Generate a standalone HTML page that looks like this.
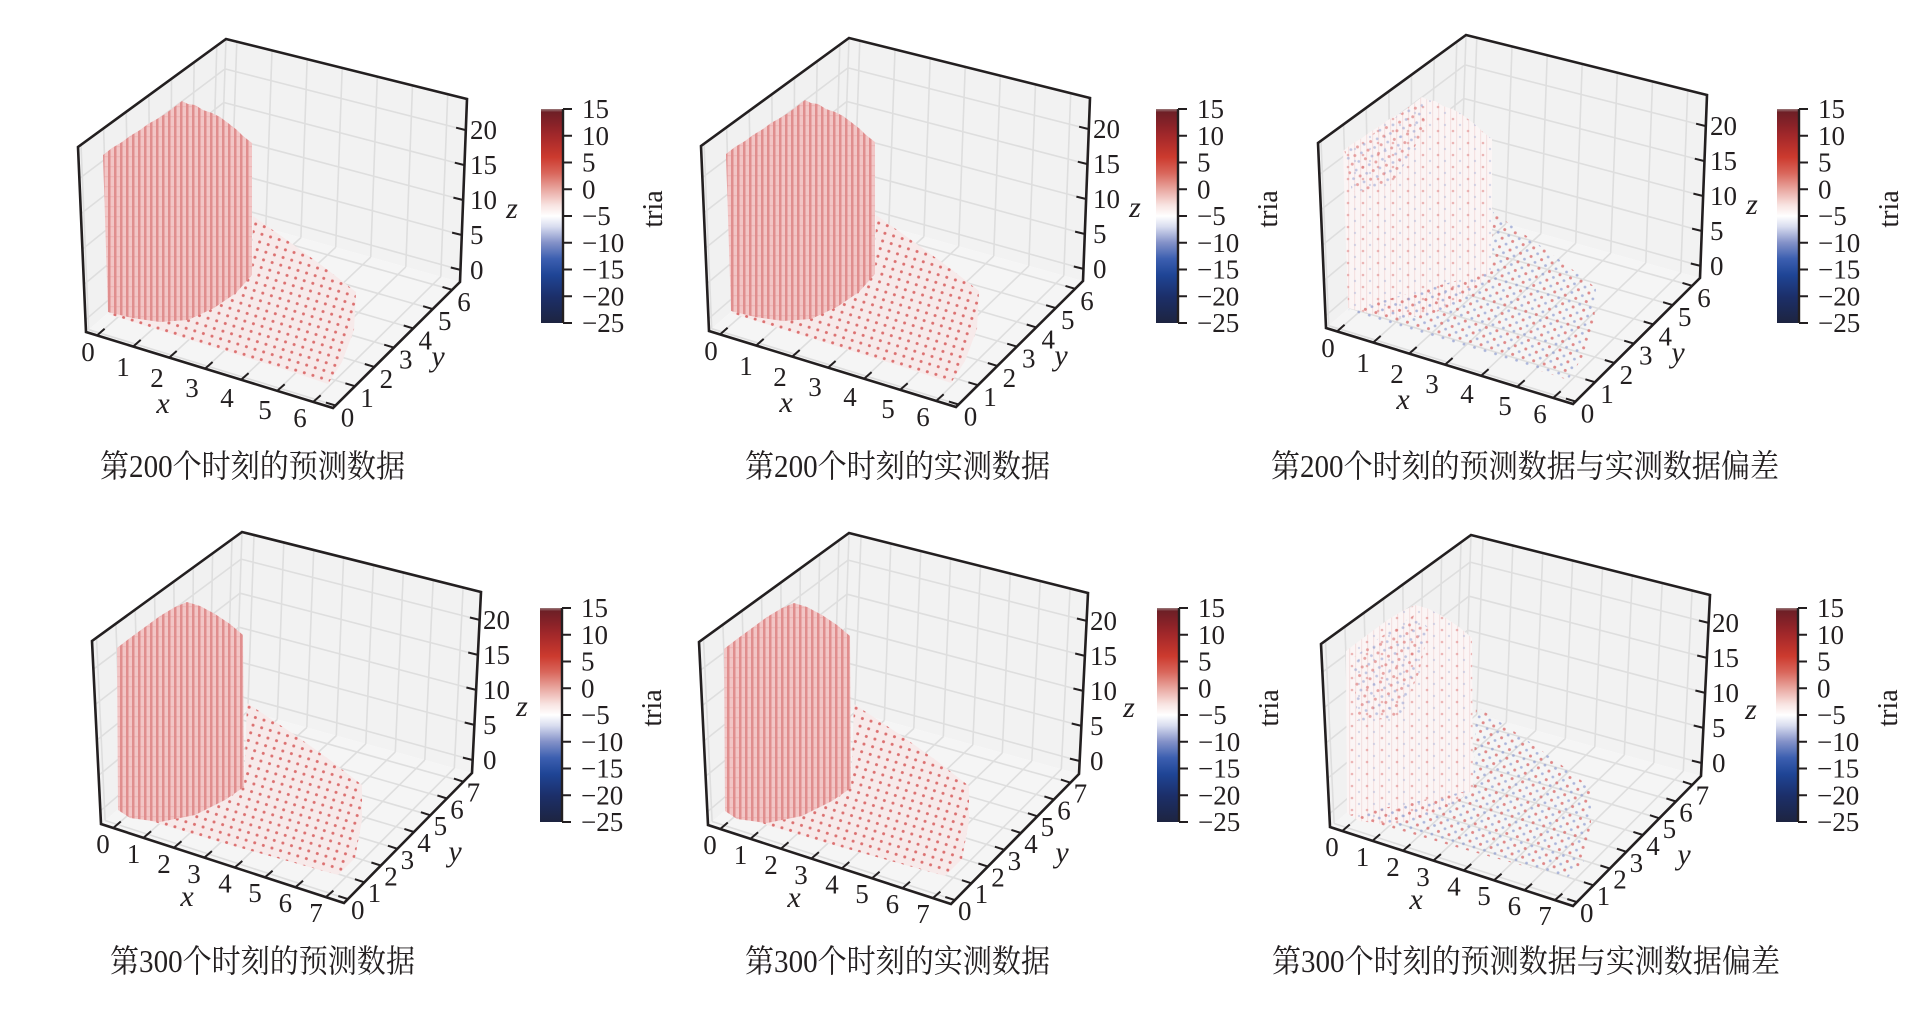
<!DOCTYPE html>
<html><head><meta charset="utf-8"><style>
html,body{margin:0;padding:0;background:#fff;}
svg{display:block;}
.t{font-family:"Liberation Serif","DejaVu Serif",serif;font-size:27px;fill:#231f20;}
.al{font-family:"Liberation Serif",serif;font-size:30px;font-style:italic;fill:#231f20;}
.cap{font-family:"Liberation Serif","Noto Serif CJK SC",serif;font-size:32px;fill:#231f20;}
.tr{font-family:"Liberation Serif",serif;font-size:28px;fill:#231f20;}
</style></head><body>
<svg width="1925" height="1013" viewBox="0 0 1925 1013" xmlns="http://www.w3.org/2000/svg">
<defs>
<linearGradient id="cm" x1="0" y1="0" x2="0" y2="1">
<stop offset="0" stop-color="#9c7c7c"/><stop offset="0.015" stop-color="#6e1f26"/><stop offset="0.075" stop-color="#8a2228"/><stop offset="0.125" stop-color="#a3282a"/>
<stop offset="0.225" stop-color="#cc3a2e"/><stop offset="0.3" stop-color="#d9675c"/><stop offset="0.375" stop-color="#e9a7a0"/>
<stop offset="0.45" stop-color="#f8e4e2"/><stop offset="0.5" stop-color="#ffffff"/><stop offset="0.55" stop-color="#d8dcef"/>
<stop offset="0.625" stop-color="#8391c8"/><stop offset="0.7" stop-color="#3c5fb0"/><stop offset="0.775" stop-color="#1f4596"/>
<stop offset="0.875" stop-color="#1c2f6a"/><stop offset="1" stop-color="#1d2440"/>
</linearGradient>
<pattern id="ws" patternUnits="userSpaceOnUse" width="6" height="10">
<rect width="6" height="10" fill="#f2c6c6"/><rect width="2.5" height="10" fill="#e08e8e"/><rect x="2.5" y="6" width="3.5" height="1.2" fill="#eeb6b6"/>
</pattern>
<pattern id="fd" patternUnits="userSpaceOnUse" width="9" height="8" patternTransform="rotate(17)">
<circle cx="4" cy="3.5" r="1.5" fill="#dc7070"/>
</pattern>
<pattern id="dd" patternUnits="userSpaceOnUse" width="11" height="9" patternTransform="rotate(17)">
<circle cx="2.5" cy="2" r="1.5" fill="#d86464" opacity=".75"/><circle cx="8" cy="6.5" r="1.4" fill="#8494cc" opacity=".65"/>
</pattern>
<pattern id="dsp" patternUnits="userSpaceOnUse" width="15" height="12">
<circle cx="3" cy="3" r="1.3" fill="#e28a8a" opacity=".6"/><circle cx="10" cy="9" r="1.2" fill="#b0b8dc" opacity=".5"/>
</pattern>
<pattern id="dw" patternUnits="userSpaceOnUse" width="6" height="12">
<rect width="6" height="12" fill="#fbf5f5"/><rect width="1.2" height="12" fill="#f5e2e2"/>
</pattern>

<g id="bg1">
<path d="M86,332L220,215L226,39L78,147Z" fill="#f1f1f1"/>
<path d="M220,215L460,282L467,99L226,39Z" fill="#f2f2f2"/>
<path d="M86,332L333,408L460,282L220,215Z" fill="#f5f5f5"/>
<path fill="none" stroke="#dedede" stroke-width="1.6" d="M97.1,335.4L230.8,218M133.2,346.5L265.8,227.8M169.2,357.6L300.9,237.6M205.1,368.6L335.7,247.3M241.1,379.7L370.7,257.1M277.2,390.8L405.8,266.9M313.2,401.9L440.8,276.6
M88.7,329.7L335.5,405.5M109.2,311.8L355,386.2M129.7,293.9L374.4,366.9M150.2,276L393.8,347.6M170.7,258.1L413.3,328.4M191.2,240.2L432.7,309.1M211.7,222.3L452.1,289.8
M88.7,329.7L81,144.8M109.2,311.8L103.6,128.3M129.7,293.9L126.2,111.8M150.2,276L148.9,95.3M170.7,258.1L171.5,78.7M191.2,240.2L194.2,62.2M211.7,222.3L216.8,45.7
M85.5,319.8L220.4,203.4M83.9,284.5L221.5,169.8M82.4,249.1L222.7,136.2M80.9,213.8L223.8,102.5M79.4,178.5L225,68.9
M230.8,218L236.8,41.7M265.8,227.8L272,50.5M300.9,237.6L307.2,59.2M335.7,247.3L342.2,67.9M370.7,257.1L377.3,76.7M405.8,266.9L412.5,85.4M440.8,276.6L447.7,94.2
M220.4,203.4L460.5,269.9M221.5,169.8L461.8,235M222.7,136.2L463.1,200M223.8,102.5L464.5,165.1M225,68.9L465.8,130.1
M220,215L226,39"/>
</g>
<g id="ax1" fill="none" stroke="#231f20">
<path stroke-width="2.6" stroke-linejoin="miter" d="M78,147L86,332L333,408L460,282L467,99L226,39Z"/>
<path stroke-width="2" d="M97.1,335.4l7.5,-6.6M133.2,346.5l7.5,-6.6M169.2,357.6l7.5,-6.6M205.1,368.6l7.5,-6.6M241.1,379.7l7.5,-6.6M277.2,390.8l7.5,-6.6M313.2,401.9l7.5,-6.6
M335.5,405.5l-9.6,-2.9M355,386.2l-9.6,-2.9M374.4,366.9l-9.6,-2.9M393.8,347.6l-9.6,-2.9M413.3,328.4l-9.6,-2.9M432.7,309.1l-9.6,-2.9M452.1,289.8l-9.6,-2.9
M460.5,269.9l-9.7,-2.4M461.8,235l-9.7,-2.4M463.1,200l-9.7,-2.4M464.5,165.1l-9.7,-2.4M465.8,130.1l-9.7,-2.4"/>
</g>

<g id="bg2">
<path d="M101,824L236,708L242,532L92,641Z" fill="#f1f1f1"/>
<path d="M236,708L472,773L481,592L242,532Z" fill="#f2f2f2"/>
<path d="M101,824L344,903L472,773L236,708Z" fill="#f5f5f5"/>
<path fill="none" stroke="#dedede" stroke-width="1.6" d="M113.2,828L247.8,711.3M143.5,837.8L277.3,719.4M173.9,847.7L306.8,727.5M204.3,857.6L336.3,735.6M234.7,867.5L365.8,743.8M265,877.3L395.3,751.9M295.4,887.2L424.8,760M325.8,897.1L454.3,768.1
M105.1,820.5L347.8,899.1M122.5,805.6L364.4,882.3M139.9,790.6L380.9,865.6M157.3,775.6L397.4,848.8M174.7,760.7L413.9,832M192.1,745.7L430.4,815.3M209.5,730.7L446.9,798.5M227,715.8L463.4,781.7
M105.1,820.5L96.5,637.7M122.5,805.6L115.9,623.7M139.9,790.6L135.2,609.6M157.3,775.6L154.6,595.5M174.7,760.7L173.9,581.5M192.1,745.7L193.3,567.4M209.5,730.7L212.6,553.4M227,715.8L232,539.3
M100.4,810.8L236.4,695.3M98.6,775.4L237.6,661.3M96.9,740L238.8,627.2M95.1,704.6L239.9,593.2M93.4,669.2L241.1,559.1
M247.8,711.3L254,535M277.3,719.4L283.8,542.5M306.8,727.5L313.7,550M336.3,735.6L343.6,557.5M365.8,743.8L373.5,565M395.3,751.9L403.3,572.5M424.8,760L433.2,580M454.3,768.1L463.1,587.5
M236.4,695.3L472.6,760M237.6,661.3L474.4,724.9M238.8,627.2L476.1,689.9M239.9,593.2L477.9,654.9M241.1,559.1L479.6,619.9
M236,708L242,532"/>
</g>
<g id="ax2" fill="none" stroke="#231f20">
<path stroke-width="2.6" d="M92,641L101,824L344,903L472,773L481,592L242,532Z"/>
<path stroke-width="2" d="M113.2,828l7.6,-6.5M143.5,837.8l7.6,-6.5M173.9,847.7l7.6,-6.5M204.3,857.6l7.6,-6.5M234.7,867.5l7.6,-6.5M265,877.3l7.6,-6.5M295.4,887.2l7.6,-6.5M325.8,897.1l7.6,-6.5
M347.8,899.1l-9.5,-3.1M364.4,882.3l-9.5,-3.1M380.9,865.6l-9.5,-3.1M397.4,848.8l-9.5,-3.1M413.9,832l-9.5,-3.1M430.4,815.3l-9.5,-3.1M446.9,798.5l-9.5,-3.1M463.4,781.7l-9.5,-3.1
M472.6,760l-9.7,-2.4M474.4,724.9l-9.7,-2.4M476.1,689.9l-9.7,-2.4M477.9,654.9l-9.7,-2.4M479.6,619.9l-9.7,-2.4"/>
</g>

<path id="F1" d="M108,314L200,343L280,368L328,384L342,362L354,330L356,292L328,270L298,248L270,228L253,216L252,275Z"/>
<path id="W1" d="M103,155L112,148L122,142L130,136L140,130L148,124L157,119L165,114L173,108L182,101L188,104L195,105L203,110L212,113L220,117L228,123L237,130L243,136L252,143L252,275L236,293L214,308L188,320L160,322L132,318L108,312Z"/>
<path id="F2" d="M120,812L230,845L338,875L355,858L362,820L362,785L330,760L295,735L265,715L247,703L244,787Z"/>
<path id="W2" d="M117,648L130,638L145,627L160,616L175,607L187,602L200,606L215,614L230,624L243,635L244,787L225,800L195,815L160,822L130,818L118,810Z"/>

<g id="d1">
<use href="#F1" fill="#f7eaea"/><use href="#F1" fill="url(#fd)"/><use href="#W1" fill="url(#ws)"/>
</g>
<g id="d2">
<use href="#F2" fill="#f7eaea"/><use href="#F2" fill="url(#fd)"/><use href="#W2" fill="url(#ws)"/>
</g>
<g id="x1">
<use href="#W1" fill="url(#dw)"/><use href="#W1" fill="url(#dsp)"/>
<use href="#F1" fill="url(#dd)"/>
<path d="M104,152L130,140L160,118L182,104L186,130L170,160L150,190L112,196Z" fill="url(#dd)" opacity=".75"/>
</g>
<g id="x2">
<use href="#W2" fill="url(#dw)"/><use href="#W2" fill="url(#dsp)"/>
<use href="#F2" fill="url(#dd)"/>
<path d="M124,655L150,635L185,612L200,625L190,670L170,715L128,718Z" fill="url(#dd)" opacity=".75"/>
</g>

<g id="cb">
<rect x="0" y="0" width="22" height="214" fill="url(#cm)"/>
<path d="M22,0V214" stroke="#231f20" stroke-width="2.4" fill="none"/>
<path d="M22,0h9M22,26.75h9M22,53.5h9M22,80.25h9M22,107h9M22,133.75h9M22,160.5h9M22,187.25h9M22,214h9" stroke="#231f20" stroke-width="2" fill="none"/>
</g>
</defs>

<!-- Row 1 -->
<use href="#bg1"/><use href="#d1"/><use href="#ax1"/>
<use href="#bg1" transform="translate(623,-1)"/><use href="#d1" transform="translate(623,-1)"/><use href="#ax1" transform="translate(623,-1)"/>
<use href="#bg1" transform="translate(1240,-4)"/><use href="#x1" transform="translate(1240,-4)"/><use href="#ax1" transform="translate(1240,-4)"/>
<!-- Row 2 -->
<use href="#bg2"/><use href="#d2"/><use href="#ax2"/>
<use href="#bg2" transform="translate(607,1)"/><use href="#d2" transform="translate(607,1)"/><use href="#ax2" transform="translate(607,1)"/>
<use href="#bg2" transform="translate(1229,3)"/><use href="#x2" transform="translate(1229,3)"/><use href="#ax2" transform="translate(1229,3)"/>

<!-- Colorbars -->
<use href="#cb" transform="translate(541,109)"/>
<use href="#cb" transform="translate(1156,109)"/>
<use href="#cb" transform="translate(1777,109)"/>
<use href="#cb" transform="translate(540,608)"/>
<use href="#cb" transform="translate(1157,608)"/>
<use href="#cb" transform="translate(1776,608)"/>

<!-- Row 1 axis text -->
<g transform="translate(0,0)">
<g class="t" text-anchor="middle">
<text x="88" y="361">0</text><text x="123" y="376">1</text><text x="157" y="387">2</text><text x="192" y="397">3</text><text x="227" y="407">4</text><text x="265" y="419">5</text><text x="300" y="427">6</text>
<text x="347.5" y="426.5">0</text><text x="367" y="407">1</text><text x="386.4" y="388">2</text><text x="405.8" y="368.6">3</text><text x="425.3" y="349.4">4</text><text x="444.7" y="330">5</text><text x="464" y="311">6</text>
</g>
<g class="t"><text x="470" y="279">0</text><text x="470" y="244">5</text><text x="470" y="209">10</text><text x="470" y="174">15</text><text x="470" y="139">20</text></g>
<g class="al" text-anchor="middle"><text x="163" y="413">x</text><text x="438" y="366">y</text><text x="512" y="218">z</text></g>
</g>
<g transform="translate(623,-1)">
<g class="t" text-anchor="middle">
<text x="88" y="361">0</text><text x="123" y="376">1</text><text x="157" y="387">2</text><text x="192" y="397">3</text><text x="227" y="407">4</text><text x="265" y="419">5</text><text x="300" y="427">6</text>
<text x="347.5" y="426.5">0</text><text x="367" y="407">1</text><text x="386.4" y="388">2</text><text x="405.8" y="368.6">3</text><text x="425.3" y="349.4">4</text><text x="444.7" y="330">5</text><text x="464" y="311">6</text>
</g>
<g class="t"><text x="470" y="279">0</text><text x="470" y="244">5</text><text x="470" y="209">10</text><text x="470" y="174">15</text><text x="470" y="139">20</text></g>
<g class="al" text-anchor="middle"><text x="163" y="413">x</text><text x="438" y="366">y</text><text x="512" y="218">z</text></g>
</g>
<g transform="translate(1240,-4)">
<g class="t" text-anchor="middle">
<text x="88" y="361">0</text><text x="123" y="376">1</text><text x="157" y="387">2</text><text x="192" y="397">3</text><text x="227" y="407">4</text><text x="265" y="419">5</text><text x="300" y="427">6</text>
<text x="347.5" y="426.5">0</text><text x="367" y="407">1</text><text x="386.4" y="388">2</text><text x="405.8" y="368.6">3</text><text x="425.3" y="349.4">4</text><text x="444.7" y="330">5</text><text x="464" y="311">6</text>
</g>
<g class="t"><text x="470" y="279">0</text><text x="470" y="244">5</text><text x="470" y="209">10</text><text x="470" y="174">15</text><text x="470" y="139">20</text></g>
<g class="al" text-anchor="middle"><text x="163" y="413">x</text><text x="438" y="366">y</text><text x="512" y="218">z</text></g>
</g>

<!-- Row 2 axis text -->
<g transform="translate(0,0)">
<g class="t" text-anchor="middle">
<text x="103" y="853">0</text><text x="133.5" y="863">1</text><text x="164" y="873">2</text><text x="194" y="883">3</text><text x="225" y="892.5">4</text><text x="255" y="902">5</text><text x="285.4" y="912">6</text><text x="316" y="922">7</text>
<text x="357.8" y="919">0</text><text x="374.4" y="902">1</text><text x="391" y="885.6">2</text><text x="407.4" y="869">3</text><text x="424" y="852">4</text><text x="440.4" y="835">5</text><text x="457" y="818.5">6</text><text x="473.4" y="801.7">7</text>
</g>
<g class="t"><text x="483" y="769">0</text><text x="483" y="734">5</text><text x="483" y="699">10</text><text x="483" y="664">15</text><text x="483" y="629">20</text></g>
<g class="al" text-anchor="middle"><text x="187" y="906">x</text><text x="455" y="861">y</text><text x="522" y="716">z</text></g>
</g>
<g transform="translate(607,1)">
<g class="t" text-anchor="middle">
<text x="103" y="853">0</text><text x="133.5" y="863">1</text><text x="164" y="873">2</text><text x="194" y="883">3</text><text x="225" y="892.5">4</text><text x="255" y="902">5</text><text x="285.4" y="912">6</text><text x="316" y="922">7</text>
<text x="357.8" y="919">0</text><text x="374.4" y="902">1</text><text x="391" y="885.6">2</text><text x="407.4" y="869">3</text><text x="424" y="852">4</text><text x="440.4" y="835">5</text><text x="457" y="818.5">6</text><text x="473.4" y="801.7">7</text>
</g>
<g class="t"><text x="483" y="769">0</text><text x="483" y="734">5</text><text x="483" y="699">10</text><text x="483" y="664">15</text><text x="483" y="629">20</text></g>
<g class="al" text-anchor="middle"><text x="187" y="906">x</text><text x="455" y="861">y</text><text x="522" y="716">z</text></g>
</g>
<g transform="translate(1229,3)">
<g class="t" text-anchor="middle">
<text x="103" y="853">0</text><text x="133.5" y="863">1</text><text x="164" y="873">2</text><text x="194" y="883">3</text><text x="225" y="892.5">4</text><text x="255" y="902">5</text><text x="285.4" y="912">6</text><text x="316" y="922">7</text>
<text x="357.8" y="919">0</text><text x="374.4" y="902">1</text><text x="391" y="885.6">2</text><text x="407.4" y="869">3</text><text x="424" y="852">4</text><text x="440.4" y="835">5</text><text x="457" y="818.5">6</text><text x="473.4" y="801.7">7</text>
</g>
<g class="t"><text x="483" y="769">0</text><text x="483" y="734">5</text><text x="483" y="699">10</text><text x="483" y="664">15</text><text x="483" y="629">20</text></g>
<g class="al" text-anchor="middle"><text x="187" y="906">x</text><text x="455" y="861">y</text><text x="522" y="716">z</text></g>
</g>

<!-- Colorbar labels -->
<g transform="translate(541,109)"><g class="t"><text x="41" y="9">15</text><text x="41" y="35.75">10</text><text x="41" y="62.5">5</text><text x="41" y="89.25">0</text><text x="41" y="116">−5</text><text x="41" y="142.75">−10</text><text x="41" y="169.5">−15</text><text x="41" y="196.25">−20</text><text x="41" y="223">−25</text></g><text class="tr" text-anchor="middle" transform="translate(121,100) rotate(-90)">tria</text></g>
<g transform="translate(1156,109)"><g class="t"><text x="41" y="9">15</text><text x="41" y="35.75">10</text><text x="41" y="62.5">5</text><text x="41" y="89.25">0</text><text x="41" y="116">−5</text><text x="41" y="142.75">−10</text><text x="41" y="169.5">−15</text><text x="41" y="196.25">−20</text><text x="41" y="223">−25</text></g><text class="tr" text-anchor="middle" transform="translate(121,100) rotate(-90)">tria</text></g>
<g transform="translate(1777,109)"><g class="t"><text x="41" y="9">15</text><text x="41" y="35.75">10</text><text x="41" y="62.5">5</text><text x="41" y="89.25">0</text><text x="41" y="116">−5</text><text x="41" y="142.75">−10</text><text x="41" y="169.5">−15</text><text x="41" y="196.25">−20</text><text x="41" y="223">−25</text></g><text class="tr" text-anchor="middle" transform="translate(121,100) rotate(-90)">tria</text></g>
<g transform="translate(540,608)"><g class="t"><text x="41" y="9">15</text><text x="41" y="35.75">10</text><text x="41" y="62.5">5</text><text x="41" y="89.25">0</text><text x="41" y="116">−5</text><text x="41" y="142.75">−10</text><text x="41" y="169.5">−15</text><text x="41" y="196.25">−20</text><text x="41" y="223">−25</text></g><text class="tr" text-anchor="middle" transform="translate(121,100) rotate(-90)">tria</text></g>
<g transform="translate(1157,608)"><g class="t"><text x="41" y="9">15</text><text x="41" y="35.75">10</text><text x="41" y="62.5">5</text><text x="41" y="89.25">0</text><text x="41" y="116">−5</text><text x="41" y="142.75">−10</text><text x="41" y="169.5">−15</text><text x="41" y="196.25">−20</text><text x="41" y="223">−25</text></g><text class="tr" text-anchor="middle" transform="translate(121,100) rotate(-90)">tria</text></g>
<g transform="translate(1776,608)"><g class="t"><text x="41" y="9">15</text><text x="41" y="35.75">10</text><text x="41" y="62.5">5</text><text x="41" y="89.25">0</text><text x="41" y="116">−5</text><text x="41" y="142.75">−10</text><text x="41" y="169.5">−15</text><text x="41" y="196.25">−20</text><text x="41" y="223">−25</text></g><text class="tr" text-anchor="middle" transform="translate(121,100) rotate(-90)">tria</text></g>

<!-- Captions -->
<text class="cap" x="100" y="477" textLength="305" lengthAdjust="spacingAndGlyphs">第200个时刻的预测数据</text>
<text class="cap" x="745" y="477" textLength="305" lengthAdjust="spacingAndGlyphs">第200个时刻的实测数据</text>
<text class="cap" x="1271" y="477" textLength="508" lengthAdjust="spacingAndGlyphs">第200个时刻的预测数据与实测数据偏差</text>
<text class="cap" x="110" y="972" textLength="305" lengthAdjust="spacingAndGlyphs">第300个时刻的预测数据</text>
<text class="cap" x="745" y="972" textLength="305" lengthAdjust="spacingAndGlyphs">第300个时刻的实测数据</text>
<text class="cap" x="1272" y="972" textLength="508" lengthAdjust="spacingAndGlyphs">第300个时刻的预测数据与实测数据偏差</text>
</svg>
</body></html>
